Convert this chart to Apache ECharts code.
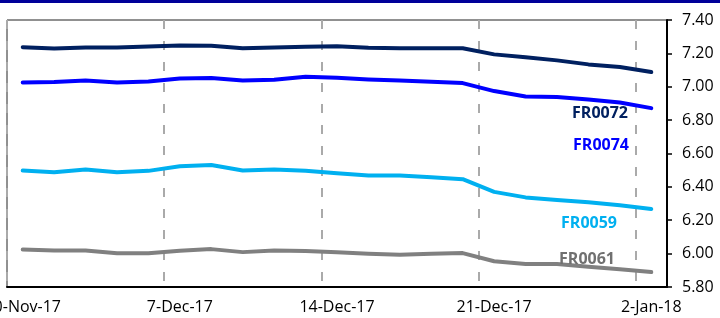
<!DOCTYPE html>
<html>
<head>
<meta charset="utf-8">
<style>
html, body { margin: 0; padding: 0; background: #fff; }
#chart { width: 720px; height: 318px; }
</style>
<script src="https://cdn.jsdelivr.net/npm/echarts@6/dist/echarts.min.js"></script>
</head>
<body>
<div id="chart"></div>
<script>
// trading days shown on the axis
var dates = ['30-Nov-17', '1-Dec-17', '4-Dec-17', '5-Dec-17', '6-Dec-17', '7-Dec-17', '8-Dec-17',
    '11-Dec-17', '12-Dec-17', '13-Dec-17', '14-Dec-17', '15-Dec-17', '18-Dec-17', '19-Dec-17',
    '20-Dec-17', '21-Dec-17', '22-Dec-17', '27-Dec-17', '28-Dec-17', '29-Dec-17', '2-Jan-18'];

// yields (%)
var fr0072 = [7.237, 7.229, 7.235, 7.235, 7.241, 7.247, 7.246, 7.231, 7.235, 7.240, 7.243,
    7.234, 7.231, 7.231, 7.231, 7.194, 7.177, 7.158, 7.134, 7.118, 7.088];
var fr0074 = [7.026, 7.028, 7.038, 7.026, 7.032, 7.050, 7.052, 7.038, 7.042, 7.060, 7.054,
    7.044, 7.038, 7.030, 7.022, 6.974, 6.942, 6.938, 6.924, 6.906, 6.872];
var fr0059 = [6.498, 6.488, 6.504, 6.488, 6.496, 6.524, 6.531, 6.498, 6.504, 6.496, 6.482,
    6.468, 6.468, 6.458, 6.446, 6.370, 6.337, 6.322, 6.308, 6.290, 6.268];
var fr0061 = [6.025, 6.019, 6.019, 6.002, 6.002, 6.017, 6.027, 6.009, 6.019, 6.015, 6.008,
    5.999, 5.993, 5.999, 6.003, 5.954, 5.938, 5.938, 5.921, 5.906, 5.890];

var seriesNames = ['FR0072', 'FR0074', 'FR0059', 'FR0061'];

var chart = echarts.init(document.getElementById('chart'));
var font = '"Open Sans", "Noto Sans", sans-serif';

var makeLine = function(name, data, color) {
    return {
        name: name,
        type: 'line',
        data: data,
        symbol: 'none',
        lineStyle: { color: color, width: 4, cap: 'round', join: 'round' },
        z: 3
    };
};

var makeLabel = function(text, x, y, color) {
    return {
        type: 'text',
        x: x,
        y: y,
        z: 10,
        style: {
            text: text,
            fill: color,
            font: 'bold 16px ' + font,
            align: 'center',
            textAlign: 'center',
            verticalAlign: 'middle',
            textVerticalAlign: 'middle'
        }
    };
};

var option = {
    animation: false,
    backgroundColor: '#fff',
    grid: {
        left: 7,
        right: 53,
        top: 20,
        bottom: 31,
        outerBoundsMode: 'none',
        containLabel: false,
        show: true,
        borderColor: '#222',
        borderWidth: 1
    },
    xAxis: {
        type: 'category',
        data: dates,
        boundaryGap: true,
        axisLine: { show: true, lineStyle: { color: '#000', width: 2 } },
        axisTick: { show: false, interval: 4 },
        axisLabel: {
            interval: 4,
            margin: 12,
            color: '#000',
            fontSize: 16,
            fontFamily: font,
            hideOverlap: false
        },
        splitLine: {
            show: true,
            interval: 4,
            lineStyle: { color: '#aaa', width: 2, type: [9, 12] }
        }
    },
    yAxis: {
        type: 'value',
        position: 'right',
        min: 5.8,
        max: 7.4,
        interval: 0.2,
        axisLine: { show: true, lineStyle: { color: '#000', width: 2 } },
        axisTick: { show: true, length: 5, lineStyle: { color: '#000', width: 1.5 } },
        axisLabel: {
            margin: 15,
            color: '#000',
            fontSize: 16,
            fontFamily: font,
            formatter: function(v) { return v.toFixed(2); }
        },
        splitLine: { show: false }
    },
    series: [
        makeLine(seriesNames[0], fr0072, '#002060'),
        makeLine(seriesNames[1], fr0074, '#0000ff'),
        makeLine(seriesNames[2], fr0059, '#00b0f0'),
        makeLine(seriesNames[3], fr0061, '#808080')
    ],
    graphic: [
        { type: 'rect', left: 0, top: 0, z: 10, shape: { width: 720, height: 3 }, style: { fill: '#000099' } },
        makeLabel(seriesNames[0], 600, 113, '#002060'),
        makeLabel(seriesNames[1], 601, 145, '#0000ff'),
        makeLabel(seriesNames[2], 589, 223, '#00b0f0'),
        makeLabel(seriesNames[3], 587, 259, '#707070')
    ]
};

chart.setOption(option);
</script>
</body>
</html>
